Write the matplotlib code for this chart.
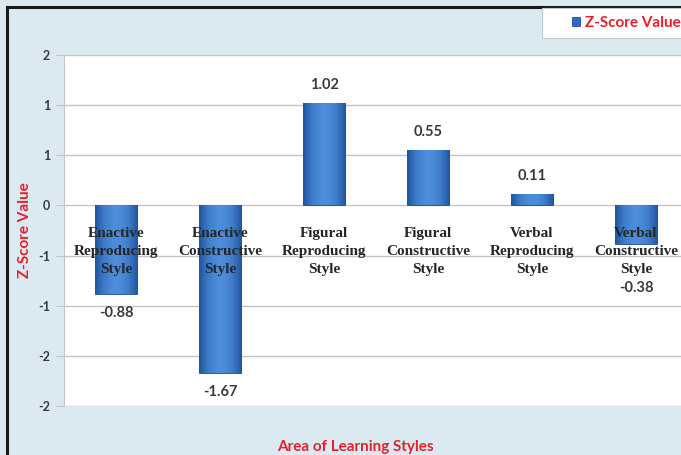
import matplotlib
matplotlib.use("Agg")
import matplotlib.pyplot as plt
import numpy as np
from matplotlib.lines import Line2D
from matplotlib.patches import Rectangle

categories = [
    "Enactive\nReproducing\nStyle",
    "Enactive\nConstructive\nStyle",
    "Figural\nReproducing\nStyle",
    "Figural\nConstructive\nStyle",
    "Verbal\nReproducing\nStyle",
    "Verbal\nConstructive\nStyle",
]
z_scores = [-0.88, -1.67, 1.02, 0.55, 0.11, -0.38]
y_ticks = [-2.0, -1.5, -1.0, -0.5, 0.0, 0.5, 1.0, 1.5]
y_tick_labels = ["-2", "-2", "-1", "-1", "0", "1", "1", "2"]

BG = "#dbe9f1"
RED = "#e3212d"
GRID = "#c4c4c4"
TXT = "#3a3a3a"

fig = plt.figure(figsize=(6.81, 4.55), dpi=100, facecolor=BG)
W, H = 681, 455
ax = fig.add_axes([64 / W, 1 - 406 / H, (688 - 64) / W, (406 - 55) / H])
ax.set_facecolor("white")

x = np.arange(len(categories))
bars = ax.bar(x, z_scores, width=0.41, color="#2f6cbf", edgecolor="#1f4f98",
              linewidth=0.6, zorder=3, label="Z-Score Value")

# cylinder-like shading: dark edges, lighter middle
grad = np.linspace(-1, 1, 64)
shade = 1 - grad ** 2
dark = np.array([0.12, 0.33, 0.62])
light = np.array([0.30, 0.55, 0.86])
img = dark[None, :] + shade[:, None] * (light - dark)[None, :]
img = img[None, :, :]
for b in bars:
    x0, y0 = b.get_x(), b.get_y()
    w, h = b.get_width(), b.get_height()
    im = ax.imshow(img, extent=(x0, x0 + w, y0, y0 + h), aspect="auto",
                   zorder=3.5, interpolation="bilinear")
    im.set_clip_path(b)

ax.set_xlim(-0.5, len(categories) - 0.5)
ax.set_ylim(-2.0, 1.5)
ax.set_yticks(y_ticks)
ax.set_yticklabels(y_tick_labels, fontfamily="Lato", fontweight="bold",
                   fontsize=9, color=TXT)
ax.set_xticks([])
ax.tick_params(axis="y", length=6, color=GRID, pad=4)
ax.grid(axis="y", color=GRID, linewidth=1.0, zorder=1)
for s in ["top", "right", "bottom"]:
    ax.spines[s].set_visible(False)
ax.spines["left"].set_color(GRID)

# category names sit inside the plot, just under the zero line
for xi, name in zip(x, categories):
    ax.text(xi, -0.46, name, ha="center", va="center", fontsize=11,
            fontfamily="Liberation Serif", fontweight="bold", color="#262626",
            linespacing=1.5, zorder=5)

# value labels, the last one pushed below its category name
nudge = {5: -32}
for i, (xi, v) in enumerate(zip(x, z_scores)):
    off = nudge.get(i, 13 if v > 0 else -14)
    ax.annotate(f"{v:.2f}", (xi, v), xytext=(0, off), textcoords="offset points",
                ha="center", va="center", fontsize=10.5, fontfamily="Lato",
                fontweight="bold", color=TXT, zorder=5)

fig.text(25 / W, 1 - 230 / H, "Z-Score Value", rotation=90, ha="center",
         va="center", color=RED, fontsize=11, fontfamily="Lato", fontweight="bold")
fig.text(355 / W, 1 - 447 / H, "Area of Learning Styles", ha="center",
         va="center", color=RED, fontsize=11, fontfamily="Lato", fontweight="bold")

# legend box in the top-right corner
fig.add_artist(Rectangle((542 / W, 1 - 38 / H), 150 / W, 30 / H,
                         transform=fig.transFigure, facecolor="white",
                         edgecolor="#c8c8c8", linewidth=0.8, zorder=4))
leg = fig.legend(handles=[bars], labels=["Z-Score Value"], loc="center left",
                 bbox_to_anchor=(572 / W, 1 - 23 / H), frameon=False,
                 handlelength=0.55, handleheight=0.55, handletextpad=0.3,
                 borderpad=0, borderaxespad=0,
                 prop={"family": "Lato", "weight": "bold", "size": 11})
leg.set_zorder(5)
for t in leg.get_texts():
    t.set_color(RED)

# dark frame around the chart area
fig.add_artist(Line2D([7 / W, 7 / W], [0, 1 - 7 / H], color="#1a1a1a",
                      linewidth=2.2, transform=fig.transFigure))
fig.add_artist(Line2D([7 / W, 1], [1 - 7 / H, 1 - 7 / H], color="#1a1a1a",
                      linewidth=2.2, transform=fig.transFigure))

fig.savefig("out.png", dpi=100, facecolor=BG)
